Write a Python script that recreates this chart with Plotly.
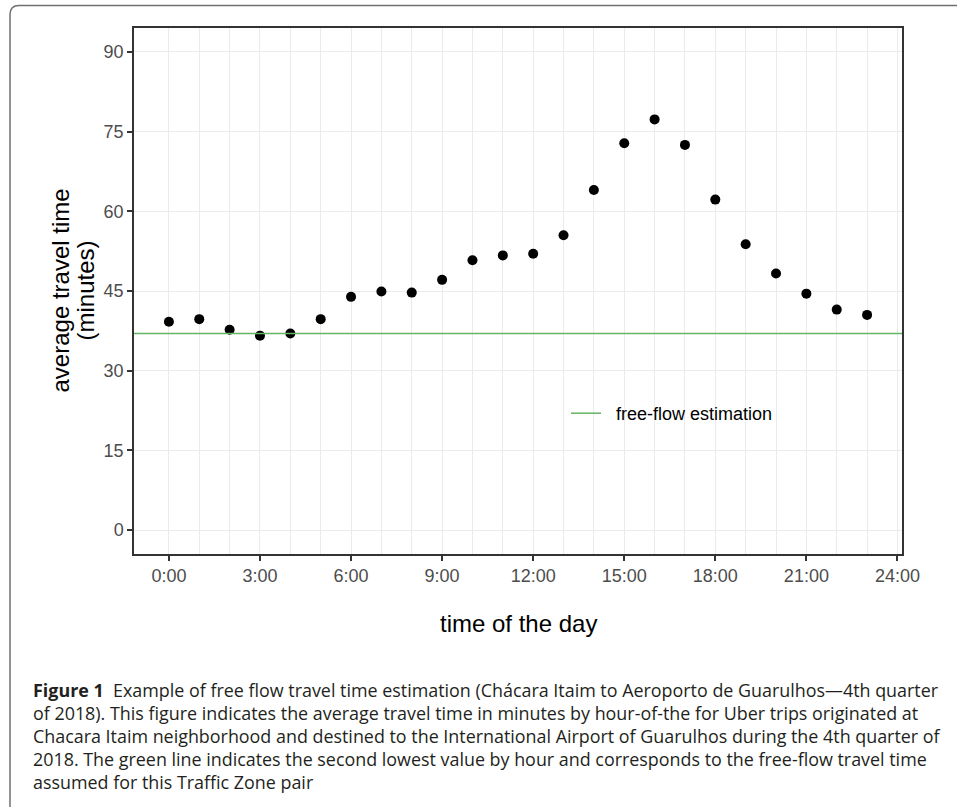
import plotly.graph_objects as go

# ---- data ----
hours = list(range(24))
avg_travel_time = [39.2, 39.7, 37.7, 36.6, 37.0, 39.7, 43.9, 44.9, 44.7, 47.1,
                   50.8, 51.7, 52.0, 55.5, 64.0, 72.8, 77.3, 72.5, 62.2, 53.8,
                   48.3, 44.5, 41.5, 40.5]
free_flow = 37.0
x_tick_vals = [0, 3, 6, 9, 12, 15, 18, 21, 24]
x_tick_text = ["0:00", "3:00", "6:00", "9:00", "12:00", "15:00", "18:00", "21:00", "24:00"]
y_tick_vals = [0, 15, 30, 45, 60, 75, 90]
caption_lines = [
    "<b>Figure 1</b>  Example of free flow travel time estimation (Chácara Itaim to Aeroporto de Guarulhos—4th quarter",
    "of 2018). This figure indicates the average travel time in minutes by hour-of-the for Uber trips originated at",
    "Chacara Itaim neighborhood and destined to the International Airport of Guarulhos during the 4th quarter of",
    "2018. The green line indicates the second lowest value by hour and corresponds to the free-flow travel time",
    "assumed for this Traffic Zone pair",
]

# ---- layout geometry (pixels) ----
W, H = 957, 807
L, R, T, B = 134, 902, 28, 554
PW, PH = R - L, B - T
x_range = [-1.15, 24.15]
y_range = [-4.5, 94.5]


def px_x(px):
    return (px - L) / PW


def px_y(py):
    return (B - py) / PH


fig = go.Figure()

fig.add_trace(go.Scatter(
    x=hours, y=avg_travel_time, mode="markers",
    marker=dict(color="black", size=10),
    showlegend=False, hoverinfo="x+y"))

fig.add_trace(go.Scatter(
    x=x_range, y=[free_flow, free_flow], mode="lines",
    line=dict(color="#66B566", width=1.5),
    name="\u00a0\u00a0free-flow estimation", showlegend=True))

axis_common = dict(
    showline=True, linecolor="#333333", linewidth=1.5, mirror=True,
    ticks="outside", ticklen=5, tickwidth=1.5, tickcolor="#333333",
    tickfont=dict(family="Liberation Sans, Arial", size=18, color="#4D4D4D"),
    gridcolor="#EBEBEB", gridwidth=1, zeroline=False,
)

fig.update_xaxes(range=x_range, tickmode="array", tickvals=x_tick_vals,
                 ticktext=x_tick_text, showgrid=True,
                 minor=dict(tickmode="array",
                            tickvals=[h for h in hours if h not in x_tick_vals],
                            showgrid=True, gridcolor="#EBEBEB", gridwidth=1,
                            ticks=""),
                 **axis_common)
fig.update_yaxes(range=y_range, tickmode="array", tickvals=y_tick_vals,
                 showgrid=True, **axis_common)

annotations = []
title_font = dict(family="Liberation Sans, Arial", size=24, color="black")
annotations.append(dict(text="time of the day", xref="paper", yref="paper",
                        x=0.5, y=px_y(623), xanchor="center", yanchor="middle",
                        showarrow=False, font=title_font))
annotations.append(dict(text="average travel time", xref="paper", yref="paper",
                        x=px_x(59.5), y=0.5, xanchor="center", yanchor="middle",
                        textangle=-90, showarrow=False, font=title_font))
annotations.append(dict(text="(minutes)", xref="paper", yref="paper",
                        x=px_x(84.5), y=0.5, xanchor="center", yanchor="middle",
                        textangle=-90, showarrow=False, font=title_font))
# caption
cap_y0, cap_dy = 690, 23
for i, line in enumerate(caption_lines):
    annotations.append(dict(text=line, xref="paper", yref="paper",
                            x=px_x(31), y=px_y(cap_y0 + i * cap_dy),
                            xanchor="left", yanchor="middle", showarrow=False,
                            align="left",
                            font=dict(family="Open Sans", size=17.9, color="#231F20")))

# outer frame (rounded top-left corner)
fx0, fy0, rad = 10, 5.5, 9
path = (f"M {px_x(fx0)},{px_y(H + 2)} L {px_x(fx0)},{px_y(fy0 + rad)} "
        f"Q {px_x(fx0)},{px_y(fy0)} {px_x(fx0 + rad)},{px_y(fy0)} "
        f"L {px_x(W + 2)},{px_y(fy0)}")
shapes = [dict(type="path", path=path, xref="paper", yref="paper",
               line=dict(color="#707070", width=1.5), layer="above")]

fig.update_layout(
    width=W, height=H,
    margin=dict(l=L, r=W - R, t=T, b=H - B, pad=0),
    paper_bgcolor="white", plot_bgcolor="white",
    annotations=annotations, shapes=shapes,
    legend=dict(x=px_x(566), y=px_y(413.5), xanchor="left", yanchor="middle",
                bgcolor="rgba(0,0,0,0)", borderwidth=0, itemwidth=30,
                font=dict(family="Liberation Sans, Arial", size=18, color="black")),
    showlegend=True,
)

fig.write_html("out.html")
